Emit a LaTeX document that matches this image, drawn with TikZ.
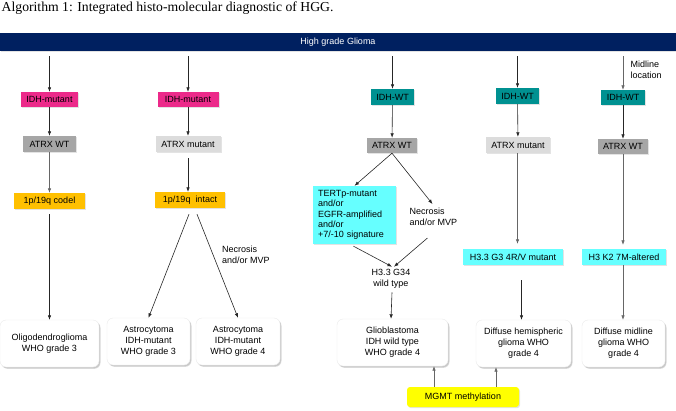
\documentclass[tikz,border=0pt]{standalone}
\usepackage{fontspec}
\setmainfont{Liberation Sans}
\newfontfamily\titlefont{Liberation Serif}
\usetikzlibrary{arrows.meta,shadows,calc}
\definecolor{navy}{HTML}{002060}
\definecolor{idhpink}{HTML}{EC2A8A}
\definecolor{idhteal}{HTML}{009191}
\definecolor{atrxdark}{HTML}{A6A6A6}
\definecolor{atrxlight}{HTML}{DCDCDC}
\definecolor{codel}{HTML}{FFC000}
\definecolor{cyanbox}{HTML}{66FFFF}
\definecolor{mgmtyellow}{HTML}{FFFF00}
\begin{document}
\begin{tikzpicture}[x=1pt,y=-1pt,
  font=\fontsize{9}{11}\selectfont,
  box/.style={rectangle, inner sep=0pt, align=center, text=black,
    drop shadow={shadow xshift=1pt,shadow yshift=-1.2pt,opacity=0.22}},
  resbox/.style={box, fill=white, draw=black!8, rounded corners=6pt,
    drop shadow={shadow xshift=1.5pt,shadow yshift=-1.8pt,opacity=0.28},
    minimum width=#1, minimum height=47pt},
  lbl/.style={inner sep=0pt, align=left, anchor=west},
  arr/.style={draw=black!85, line width=0.6pt, -{Latex[length=4.5pt,width=3.5pt]}},
  garr/.style={arr, draw=black!60},
]
\useasboundingbox (0,0) rectangle (676,411);

% title
\node[anchor=base west, inner sep=0pt, font=\titlefont\fontsize{13.7}{15}\selectfont] (title) at (1.5,12) {Algorithm 1: Integrated histo-molecular diagnostic of HGG.};

% banner
\node[box, fill=navy, text=white, minimum width=676pt, minimum height=18pt] (banner) at (338,42) {High grade Glioma};

% column 1
\node[box, fill=idhpink, minimum width=57pt, minimum height=15pt] (i1) at (49.5,99.5) {IDH-mutant};
\node[box, fill=atrxdark, minimum width=53pt, minimum height=16pt] (a1) at (49.5,144) {ATRX WT};
\node[box, fill=codel, minimum width=71pt, minimum height=16pt] (c1) at (49.5,201) {1p/19q codel};
\node[resbox=99pt] (oligo) at (49.5,343.5) {Oligodendroglioma\\WHO grade 3};

% column 2
\node[box, fill=idhpink, minimum width=61pt, minimum height=15pt] (i2) at (188,99.5) {IDH-mutant};
\node[box, fill=atrxlight, minimum width=65pt, minimum height=16pt] (a2) at (188,144) {ATRX mutant};
\node[box, fill=codel, minimum width=70pt, minimum height=16pt] (c2) at (190,200) {1p/19q\ \ intact};
\node[resbox=83pt] (ast3) at (148.5,341.5) {Astrocytoma\\IDH-mutant\\WHO grade 3};
\node[resbox=84pt] (ast4) at (238,341.5) {Astrocytoma\\IDH-mutant\\WHO grade 4};
\node[lbl] (nec2) at (222,254.5) {Necrosis\\and/or MVP};

% column 3
\node[box, fill=idhteal, minimum width=43pt, minimum height=16pt] (i3) at (392.5,97) {IDH-WT};
\node[box, fill=atrxdark, minimum width=50pt, minimum height=15pt] (a3) at (392,145.5) {ATRX WT};
\node[box, fill=cyanbox, align=left, text width=73pt, inner xsep=5pt, minimum height=58pt,
  font=\fontsize{9}{10.3}\selectfont] (tert) at (354.5,215) {TERTp-mutant\\and/or\\EGFR-amplified\\and/or\\+7/-10 signature};
\node[lbl] (nec3) at (409.5,217) {Necrosis\\and/or MVP};
\node[inner sep=0pt, align=center] (h33) at (391,278.5) {H3.3 G34\\wild type};
\node[resbox=111pt] (gbm) at (392.5,342.5) {Glioblastoma\\IDH wild type\\WHO grade 4};

% column 4
\node[box, fill=idhteal, minimum width=43pt, minimum height=16pt] (i4) at (517.5,96) {IDH-WT};
\node[box, fill=atrxlight, minimum width=64pt, minimum height=16pt] (a4) at (518,145) {ATRX mutant};
\node[box, fill=cyanbox, minimum width=100pt, minimum height=16pt] (h34) at (513,257) {H3.3 G3 4R/V mutant};
\node[resbox=95pt] (dhg) at (523.5,343.5) {Diffuse hemispheric\\glioma WHO\\grade 4};

% column 5
\node[lbl] (mid) at (630.5,70) {Midline\\location};
\node[box, fill=idhteal, minimum width=44pt, minimum height=15pt] (i5) at (623,97.5) {IDH-WT};
\node[box, fill=atrxdark, minimum width=50pt, minimum height=15pt] (a5) at (623,146.5) {ATRX WT};
\node[box, fill=cyanbox, minimum width=84pt, minimum height=16pt] (h3k) at (624,257) {H3 K2 7M-altered};
\node[resbox=83pt] (dmg) at (623.5,343.5) {Diffuse midline\\glioma WHO\\grade 4};

% MGMT
\node[box, fill=mgmtyellow, rounded corners=3pt, minimum width=112pt, minimum height=20pt] (mgmt) at (463,397) {MGMT methylation};

% arrows from banner
\foreach \n in {i1,i2,i3,i4}{
  \draw[arr] ($(banner.south -| \n.north)+(0,5)$) -- (\n.north);
}
\draw[garr] ($(banner.south -| i5.north)+(0,5)$) -- (i5.north);
% column 1
\draw[arr] (i1) -- (a1);
\draw[garr] (a1) -- (c1);
\draw[arr] ($(c1.south)+(0,5)$) -- (oligo.north);
% column 2
\draw[arr] (i2) -- (a2);
\draw[arr] ($(a2.south)+(0,6)$) -- (c2.north -| a2.south);
\draw[arr] ($(c2.south)+(-1,6)$) -- (ast3.north);
\draw[arr] ($(c2.south)+(7,6)$) -- (ast4.north);
% column 3
\draw[arr] (i3) -- (a3);
\draw[arr] (a3.south) -- (tert.north);
\draw[arr] (a3.south) -- ($(nec3.north)+(-1,-4)$);
\coordinate (t1) at ($(tert.south)+(-1,2)$);
\coordinate (n1) at ($(nec3.south)+(-6,12)$);
\draw[arr] (t1) -- ($(h33.north)+(1,-2)$);
\draw[arr] (n1) -- ($(h33.north)+(3,-2)$);
\draw[arr] ($(h33.south)+(1,4)$) -- (gbm.north -| h33.south);
% column 4
\draw[arr] (i4) -- (a4);
\draw[garr] (a4.south -| i4.south) -- ($(h34.north -| i4.south)+(0,-5)$);
\draw[arr] ($(h34.south -| dhg.north)+(-2,15)$) -- ($(dhg.north)+(-2,0)$);
% column 5
\draw[arr] (i5) -- (a5);
\draw[garr] (a5.south -| i5.south) -- ($(h3k.north -| i5.south)+(0,-4)$);
\draw[garr] (h3k.south -| i5.south) -- (dmg.north -| i5.south);
% MGMT
\draw[garr] ($(mgmt.north)+(-29,0)$) -- ($(gbm.south)+(41.5,0)$);
\draw[garr] ($(mgmt.north)+(33,0)$) -- ($(dhg.south)+(-27.5,0)$);
\end{tikzpicture}
\end{document}
